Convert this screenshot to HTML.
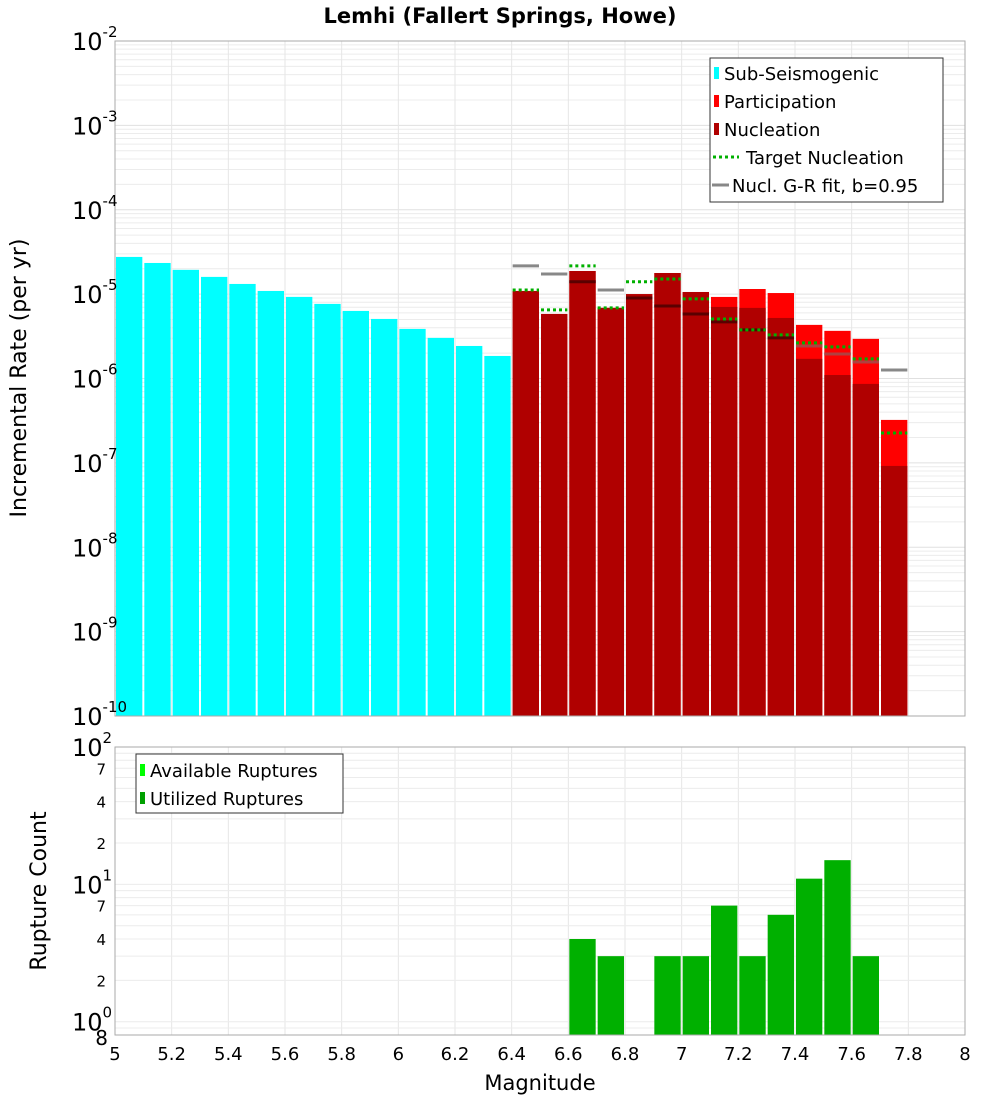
<!DOCTYPE html>
<html><head><meta charset="utf-8"><style>
html,body{margin:0;padding:0;background:#fff;}
svg{display:block;font-family:"DejaVu Sans","Liberation Sans",sans-serif;}
</style></head><body>
<svg id="chart" width="1000" height="1100" viewBox="0 0 1000 1100" xmlns="http://www.w3.org/2000/svg">
<text x="500" y="23" text-anchor="middle" font-size="21" font-weight="bold">Lemhi (Fallert Springs, Howe)</text>
<g id="topg"></g>
<g id="botg"></g>
<text transform="translate(26,378) rotate(-90)" text-anchor="middle" font-size="22">Incremental Rate (per yr)</text>
<text transform="translate(46,891) rotate(-90)" text-anchor="middle" font-size="22">Rupture Count</text>
<text x="540" y="1090" text-anchor="middle" font-size="21">Magnitude</text>
</svg>
<script>
// ---- data ----
const subMags = [5.0,5.1,5.2,5.3,5.4,5.5,5.6,5.7,5.8,5.9,6.0,6.1,6.2,6.3];
const subRates = [2.76e-5,2.34e-5,1.94e-5,1.60e-5,1.32e-5,1.09e-5,9.27e-6,7.66e-6,6.32e-6,5.08e-6,3.87e-6,3.03e-6,2.43e-6,1.85e-6];
const supMags = [6.4,6.5,6.6,6.7,6.8,6.9,7.0,7.1,7.2,7.3,7.4,7.5,7.6,7.7];
const partRates = [1.09e-5,5.82e-6,1.88e-5,6.87e-6,1.00e-5,1.78e-5,1.06e-5,9.26e-6,1.15e-5,1.03e-5,4.32e-6,3.67e-6,2.95e-6,3.23e-7];
const nuclRates = [1.09e-5,5.82e-6,1.88e-5,6.87e-6,1.00e-5,1.78e-5,1.06e-5,7.05e-6,6.87e-6,5.22e-6,1.71e-6,1.10e-6,8.63e-7,9.20e-8];
const targetRates = [1.12e-5,6.50e-6,2.16e-5,6.87e-6,1.40e-5,1.51e-5,8.77e-6,5.08e-6,3.77e-6,3.29e-6,2.64e-6,2.37e-6,1.71e-6,2.26e-7];
const grRates = [2.16e-5,1.73e-5,1.40e-5,1.12e-5,9.01e-6,7.24e-6,5.82e-6,4.69e-6,3.77e-6,3.03e-6,2.43e-6,1.95e-6,1.57e-6,1.26e-6];
const countMags = [6.6,6.7,6.9,7.0,7.1,7.2,7.3,7.4,7.5,7.6];
const countVals = [4,3,3,3,7,3,6,11,15,3];
const xTicks = ["5","5.2","5.4","5.6","5.8","6","6.2","6.4","6.6","6.8","7","7.2","7.4","7.6","7.8","8"];
const topExps = [-2,-3,-4,-5,-6,-7,-8,-9,-10];

const NS="http://www.w3.org/2000/svg";
function mk(parent,tag,attrs,text){const e=document.createElementNS(NS,tag);for(const k in attrs)e.setAttribute(k,attrs[k]);if(text!==undefined)e.textContent=text;parent.appendChild(e);return e;}
const L=115,R=965;
const x=m=>L+(m-5)*(R-L)/3;
const T1=41,B1=716;
const y1=v=>T1+(-2-Math.log10(v))*(B1-T1)/8;
const T2=747,B2=1035;
const y2=v=>T2+(2-Math.log10(v))*(B2-T2)/(2-Math.log10(0.8));

const gTop=document.getElementById('topg'), gBot=document.getElementById('botg');
// grids top
for(let d=-10;d<-2;d++){for(let k=1;k<10;k++){const yy=y1(k*Math.pow(10,d));
 const g=mk(gTop,'line',{x1:L,x2:R,y1:yy,y2:yy,stroke:k==1?'#e0e0e0':'#ececec','stroke-width':1});
 
 }}
for(let i=0;i<xTicks.length;i++){const xx=x(+xTicks[i]);
 const g=mk(gTop,'line',{x1:xx,x2:xx,y1:T1,y2:B1,stroke:'#e6e6e6'});
 
 
 const g2=mk(gBot,'line',{x1:xx,x2:xx,y1:T2,y2:B2,stroke:'#e6e6e6'});
 
 }
// grids bottom
for(let d=0;d<2;d++){for(let k=1;k<10;k++){const yy=y2(k*Math.pow(10,d));
 const g=mk(gBot,'line',{x1:L,x2:R,y1:yy,y2:yy,stroke:'#ececec'});
 
 }}
{const yy=y2(0.9);const g=mk(gBot,'line',{x1:L,x2:R,y1:yy,y2:yy,stroke:'#ececec'});
 
 }

const bw=(R-L)/30;
// cyan bars
subMags.forEach((m,i)=>{const yt=y1(subRates[i]);
 const b=mk(gTop,'rect',{x:x(m)+1,y:yt,width:bw-2,height:B1-yt,fill:'#00ffff'});
 
 });
// GR fit (gray over white)
supMags.forEach((m,i)=>{const yy=y1(grRates[i]);
 const l=mk(gTop,'line',{x1:x(m)+1,x2:x(m)+bw-1,y1:yy,y2:yy,stroke:'#888',"stroke-width":3});
 
 });
supMags.forEach((m,i)=>{const yp=y1(partRates[i]),yn=y1(nuclRates[i]);
 const b=mk(gTop,'rect',{x:x(m)+1,y:yp,width:bw-2,height:B1-yp,fill:'#ff0000'});
 
 
 const n=mk(gTop,'rect',{x:x(m)+1,y:yn,width:bw-2,height:B1-yn,fill:'#b00000'});
 
 
 const yg=y1(grRates[i]);
 if(yg>yp){const l=mk(gTop,'line',{x1:x(m)+1,x2:x(m)+bw-1,y1:yg,y2:yg,stroke:yg>yn?'#5a0000':'#b04040',"stroke-width":3});
  
  }
});
supMags.forEach((m,i)=>{const yy=y1(targetRates[i]);
 const l=mk(gTop,'line',{x1:x(m)+1,x2:x(m)+bw-1,y1:yy,y2:yy,stroke:'#00b000',"stroke-width":3,"stroke-dasharray":"3,3"});
 
 });
// frame top
{const f=mk(gTop,'rect',{x:L,y:T1,width:R-L,height:B1-T1,fill:'none',stroke:'#aaa'});
 
 }
// top y labels
topExps.forEach(e=>{const yy=y1(Math.pow(10,e));
 const t=mk(gTop,'text',{x:72,y:yy+9,'font-size':24});
 
 
 mk(t,'tspan',{},'10');mk(t,'tspan',{dy:-13,'font-size':15},String(e));});
// legend top
{const g=mk(gTop,'g',{});
 
 
 mk(g,'rect',{x:710,y:58,width:233,height:144,fill:'#fff',stroke:'#333'});
 const items=[['Sub-Seismogenic','#00ffff','box'],['Participation','#ff0000','box'],['Nucleation','#b00000','box'],['Target Nucleation','#00b000','dot'],['Nucl. G-R fit, b=0.95','#888','line']];
 items.forEach((it,i)=>{const yy=73+i*28;
  if(it[2]=='box'){mk(g,'rect',{x:714,y:yy-6,width:5,height:12,fill:it[1]});mk(g,'text',{x:724,y:yy+7,'font-size':18},it[0]);}
  else if(it[2]=='dot'){mk(g,'line',{x1:713,x2:739,y1:yy,y2:yy,stroke:it[1],'stroke-width':3,'stroke-dasharray':'3,3'});mk(g,'text',{x:746,y:yy+7,'font-size':18},it[0]);}
  else {mk(g,'line',{x1:712,x2:729,y1:yy,y2:yy,stroke:it[1],'stroke-width':3});mk(g,'text',{x:732,y:yy+7,'font-size':18},it[0]);}
 });}
// bottom bars
countMags.forEach((m,i)=>{const yt=y2(countVals[i]);
 const b=mk(gBot,'rect',{x:x(m)+1,y:yt,width:bw-2,height:B2-yt,fill:'#00b000'});
 
 });
{const f=mk(gBot,'rect',{x:L,y:T2,width:R-L,height:B2-T2,fill:'none',stroke:'#aaa'});
 
 }
// bottom y labels
[2,1,0].forEach(e=>{const yy=y2(Math.pow(10,e));
 const t=mk(gBot,'text',{x:72,y:yy+9,'font-size':24});
 
 
 mk(t,'tspan',{},'10');mk(t,'tspan',{dy:-13,'font-size':15},String(e));});
[70,40,20,7,4,2,0.8].forEach(v=>{const yy=y2(v);
 const lab=v>=10?String(v/10):(v<1?String(Math.round(v*10)):String(v));
 const t=mk(gBot,'text',{x:v<1?108:106,y:yy+(v<1?10:6),'font-size':v<1?20:15,'text-anchor':'end'},lab);
 
 });
// bottom legend
{const g=mk(gBot,'g',{});
 
 
 mk(g,'rect',{x:136,y:754,width:207,height:59,fill:'#fff',stroke:'#333'});
 mk(g,'rect',{x:140,y:764,width:5,height:12,fill:'#00ff00'});
 mk(g,'text',{x:150,y:777,'font-size':18},'Available Ruptures');
 mk(g,'rect',{x:140,y:792,width:5,height:12,fill:'#00a000'});
 mk(g,'text',{x:150,y:805,'font-size':18},'Utilized Ruptures');}
// x tick labels
xTicks.forEach(t=>{const e=mk(gBot,'text',{x:x(+t),y:1060,'font-size':18,'text-anchor':'middle'},t);
 
 });
</script>
</body></html>
